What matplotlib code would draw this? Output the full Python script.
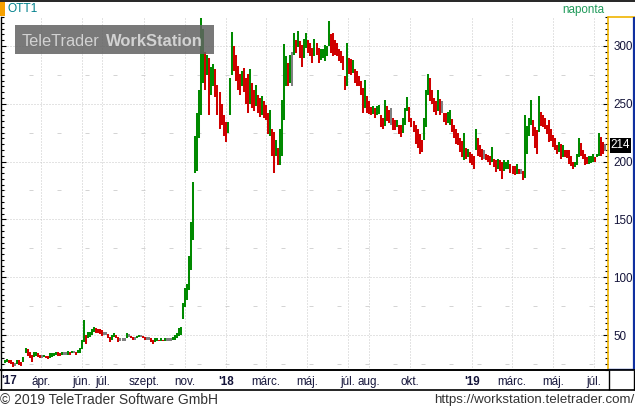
import matplotlib
matplotlib.use("Agg")
import matplotlib.pyplot as plt
import matplotlib.dates as mdates
from matplotlib.patches import Rectangle
from matplotlib.lines import Line2D
from matplotlib.ticker import MultipleLocator, FixedLocator
import numpy as np
import pandas as pd

plt.rcParams['font.family'] = ['Liberation Sans', 'DejaVu Sans']

# ---------------- data (bars every 3 calendar days) ----------------
start_date = '2017-02-07'
bar_step = '3D'

low = [26, 27, 26, 25, 22, 23, 25, 24, 23, 27,
       34, 32, 30, 27, 31, 32, 31, 30, 30, 31,
       30, 29, 30, 31, 32, 33, 32, 32, 33, 33,
       33, 33, 33, 34, 34, 33, 34, 34, 38, 44,
       42, 47, 48, 50, 53, 52, 52, 51, 49, 50,
       50, 47, 44, 46, 48, 47, 44, 45, 45, 45,
       47, 48, 47, 46, 46, 47, 48, 48, 47, 46,
       46, 46, 44, 42, 44, 45, 45, 45, 45, 45,
       45, 45, 45, 46, 46, 47, 49, 50, 64, 74,
       80, 89, 106, 132, 190, 192, 220, 240, 268, 262,
       275, 240, 258, 265, 256, 240, 228, 232, 222, 217,
       225, 240, 275, 278, 270, 262, 258, 265, 260, 250,
       242, 250, 246, 244, 248, 242, 239, 240, 238, 236,
       224, 222, 205, 190, 205, 197, 197, 205, 236, 265,
       265, 268, 265, 292, 294, 299, 290, 282, 290, 298,
       294, 291, 285, 291, 292, 285, 288, 290, 287, 291,
       300, 294, 291, 292, 291, 287, 285, 279, 262, 265,
       276, 275, 277, 268, 265, 265, 258, 242, 246, 242,
       241, 240, 241, 238, 240, 241, 230, 228, 231, 235,
       233, 232, 227, 227, 230, 224, 221, 225, 232, 244,
       234, 230, 226, 215, 212, 207, 208, 219, 230, 258,
       252, 250, 243, 240, 244, 240, 242, 234, 232, 233,
       232, 226, 220, 215, 214, 208, 204, 201, 202, 204,
       199, 197, 194, 210, 205, 204, 201, 202, 201, 200,
       197, 200, 195, 191, 194, 192, 185, 192, 194, 194,
       190, 189, 188, 189, 189, 189, 184, 186, 207, 222,
       232, 222, 212, 207, 226, 231, 230, 228, 224, 217,
       218, 213, 210, 207, 208, 202, 204, 204, 203, 198,
       196, 194, 195, 197, 204, 205, 202, 197, 198, 198,
       199, 200, 200, 204, 205, 205, 207, 209]

high = [28, 29, 28, 28, 27, 26, 28, 28, 27, 31,
        39, 38, 35, 33, 35, 35, 34, 33, 33, 33,
        32, 32, 34, 34, 34, 35, 35, 34, 35, 35,
        35, 36, 35, 36, 36, 35, 37, 39, 46, 63,
        50, 53, 53, 55, 57, 56, 55, 55, 54, 53,
        53, 51, 48, 50, 52, 50, 48, 47, 47, 47,
        52, 51, 49, 48, 48, 49, 50, 50, 49, 48,
        48, 48, 47, 46, 47, 47, 46, 47, 46, 47,
        47, 47, 47, 48, 50, 52, 56, 57, 78, 91,
        94, 118, 148, 182, 222, 242, 262, 324, 315, 295,
        292, 290, 282, 284, 280, 266, 260, 250, 240, 234,
        234, 272, 312, 300, 292, 283, 276, 278, 281, 272,
        276, 280, 268, 262, 266, 258, 255, 257, 252, 249,
        242, 245, 228, 226, 219, 212, 228, 253, 302, 291,
        285, 292, 295, 311, 305, 313, 304, 301, 306, 311,
        305, 303, 298, 306, 303, 298, 297, 297, 301, 300,
        322, 310, 311, 305, 303, 297, 296, 291, 274, 303,
        290, 289, 288, 280, 278, 274, 270, 264, 271, 257,
        252, 247, 248, 246, 248, 249, 240, 238, 253, 248,
        245, 246, 238, 236, 236, 232, 232, 238, 246, 256,
        247, 238, 235, 232, 228, 224, 219, 238, 262, 276,
        272, 262, 255, 252, 262, 254, 252, 242, 242, 243,
        245, 237, 232, 228, 225, 220, 218, 225, 212, 211,
        208, 207, 205, 228, 220, 214, 211, 210, 207, 206,
        205, 213, 202, 201, 202, 201, 200, 201, 200, 201,
        198, 196, 196, 198, 194, 194, 192, 240, 231, 238,
        253, 236, 230, 227, 257, 243, 240, 238, 232, 236,
        228, 223, 220, 214, 217, 215, 214, 210, 210, 210,
        205, 200, 200, 207, 220, 216, 210, 207, 204, 205,
        205, 207, 204, 207, 225, 221, 217, 215]

last_price = 214

tick_dates = ['2017-04-01', '2017-06-01', '2017-07-01', '2017-09-01', '2017-11-01',
              '2018-01-01', '2018-03-01', '2018-05-01', '2018-07-01', '2018-08-01',
              '2018-10-01', '2019-01-01', '2019-03-01', '2019-05-01', '2019-07-01']
tick_labels = ['ápr.', 'jún.', 'júl.', 'szept.', 'nov.',
               "'18", 'márc.', 'máj.', 'júl.', 'aug.',
               'okt.', "'19", 'márc.', 'máj.', 'júl.']
first_year_label = "'17"
y_ticks = [50, 100, 150, 200, 250, 300]
y_half_lines = [25, 75, 125, 175, 225, 275]

# ---------------- figure ----------------
W, H = 635, 408
fig = plt.figure(figsize=(W / 100, H / 100), dpi=100)
fig.patch.set_facecolor('white')

def fx(px):
    return px / W

def fy(py):
    return 1 - py / H

# pixel -> value mapping of the reference
def val_at(py):
    return 300 - (py - 46) / 1.156

ax_left, ax_right, ax_top, ax_bot = 1, 608, 17, 370
ax = fig.add_axes([fx(ax_left), fy(ax_bot), fx(ax_right) - fx(ax_left), fy(ax_top) - fy(ax_bot)])

anchor = mdates.date2num(pd.Timestamp('2017-04-01'))
px_per_day = 0.6736
ax.set_xlim(anchor + (ax_left - 41) / px_per_day, anchor + (ax_right - 41) / px_per_day)
ax.set_ylim(val_at(ax_bot), val_at(ax_top))

dates = pd.date_range(start_date, periods=len(high), freq=bar_step)
xd = mdates.date2num(dates.to_pydatetime())
lo = np.array(low, float)
hi = np.array(high, float)
mid = (lo + hi) / 2
cols = []
for i in range(len(mid)):
    if i == 0 or mid[i] > mid[i - 1]:
        cols.append('#008a00')
    elif mid[i] < mid[i - 1]:
        cols.append('#d00000')
    else:
        cols.append('#808080')

# grid
for v in y_ticks:
    ax.axhline(v, color='#c8c8c8', lw=0.72, ls=(0, (1, 2)), zorder=1)
for v in y_half_lines:
    ax.axhline(v, color='#d4d4d4', lw=0.72, ls=(0, (4, 24)), zorder=1)
tick_pos = mdates.date2num(pd.to_datetime(tick_dates).to_pydatetime())
for t in tick_pos:
    ax.axvline(t, color='#c8c8c8', lw=0.72, ls=(0, (1, 2)), zorder=1)

ax.vlines(xd, lo, hi, colors=cols, lw=1.45, zorder=3)

# axes styling
ax.spines['top'].set_visible(False)
ax.spines['left'].set_color('black')
ax.spines['left'].set_linewidth(1.0)
ax.spines['bottom'].set_color('black')
ax.spines['bottom'].set_linewidth(1.2)
ax.spines['right'].set_color('#f0b400')
ax.spines['right'].set_linewidth(1.2)

ax.yaxis.set_major_locator(FixedLocator(y_ticks))
ax.yaxis.set_minor_locator(MultipleLocator(5))
ax.yaxis.set_ticks_position('both')
ax.tick_params(axis='y', which='major', direction='in', length=3.5, width=0.8,
               labelleft=False, labelright=True, pad=4, labelsize=8.4,
               labelcolor='#15153a', color='black')
ax.tick_params(axis='y', which='minor', direction='in', length=2.0, width=0.8, color='black')

ax.xaxis.set_major_locator(FixedLocator(tick_pos))
ax.set_xticklabels(tick_labels)
ax.tick_params(axis='x', which='major', length=0, pad=4, labelsize=8.4, labelcolor='#15153a')
for lab in ax.get_xticklabels():
    if lab.get_text().startswith("'"):
        lab.set_fontweight('bold')
ax.text(fx(1), fy(381), first_year_label, transform=fig.transFigure, ha='left', va='center',
        fontsize=8.4, fontweight='bold', color='#15153a')

# frame lines
def fline(x0, y0, x1, y1, color, lw):
    fig.add_artist(Line2D([fx(x0), fx(x1)], [fy(y0), fy(y1)], color=color, lw=lw,
                          transform=fig.transFigure, solid_capstyle='butt'))

fline(0, 0.6, W, 0.6, 'black', 1.2)
fline(608, 17, 635, 17, '#f0b400', 1.2)
fline(633.8, 17, 633.8, 369, '#1030a0', 1.6)
fline(608, 369, 635, 369, '#1030a0', 1.0)
fline(0, 370.3, 635, 370.3, 'black', 1.2)
fline(0, 390, 635, 390, 'black', 1.2)
fline(0.5, 370, 0.5, 390, 'black', 1.0)
fline(608.5, 370, 608.5, 390, 'black', 1.0)
fline(634.3, 370, 634.3, 390, 'black', 1.0)

# header
fig.add_artist(Rectangle((fx(0), fy(16)), fx(5), fy(2) - fy(16), transform=fig.transFigure,
                         facecolor='#f5a000', edgecolor='none'))
fig.text(fx(8), fy(9.5), 'OTT1', ha='left', va='center', fontsize=8.6, color='#00808c')
fig.text(fx(604), fy(9.5), 'naponta', ha='right', va='center', fontsize=8.4, color='#1f9a5a')

# watermark
fig.add_artist(Rectangle((fx(15), fy(54)), fx(214) - fx(15), fy(25) - fy(54), transform=fig.transFigure,
                         facecolor='#626262', edgecolor='none', alpha=0.85, zorder=5))
fig.text(fx(22), fy(45.5), 'TeleTrader', ha='left', va='baseline', fontsize=11.8, color='#d2d2d2', zorder=6)
fig.text(fx(106), fy(45.5), 'WorkStation', ha='left', va='baseline', fontsize=11.9, fontweight='bold',
         color='#d2d2d2', zorder=6)

# last price box
py_last = 46 + (300 - last_price) * 1.156
fig.add_artist(Rectangle((fx(610), fy(py_last + 7.5)), fx(631) - fx(610), 15 / H, transform=fig.transFigure,
                         facecolor='black', edgecolor='none', zorder=5))
fig.text(fx(620.5), fy(py_last), str(last_price), ha='center', va='center', fontsize=8.4,
         color='white', zorder=6)

# footer
fig.text(fx(0), fy(399.5), '© 2019 TeleTrader Software GmbH', ha='left', va='center',
         fontsize=10.0, color='#333333')
fig.text(fx(634), fy(399.5), 'https://workstation.teletrader.com/', ha='right', va='center',
         fontsize=9.6, color='#333333')

fig.savefig('out.png', dpi=100)
